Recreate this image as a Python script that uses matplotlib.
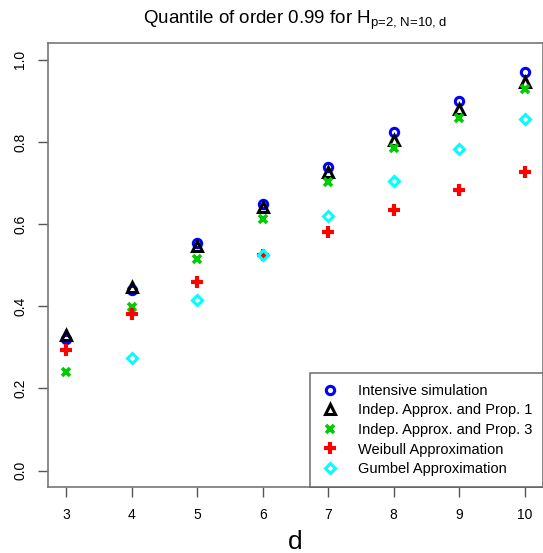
import numpy as np
import matplotlib
matplotlib.use("Agg")
import matplotlib.pyplot as plt

plt.rcParams["font.family"] = ["Liberation Sans", "DejaVu Sans"]
plt.rcParams["mathtext.fontset"] = "custom"
plt.rcParams["mathtext.rm"] = "Liberation Sans"

# data
d = [3, 4, 5, 6, 7, 8, 9, 10]
intensive = [0.321, 0.440, 0.553, 0.649, 0.740, 0.825, 0.900, 0.970]
prop1 = [0.329, 0.446, 0.547, 0.641, 0.726, 0.805, 0.879, 0.946]
prop3 = [0.241, 0.399, 0.514, 0.612, 0.702, 0.785, 0.858, 0.928]
weibull = [0.293, 0.382, 0.458, 0.524, 0.581, 0.634, 0.683, 0.728]
gumbel = [np.nan, 0.275, 0.415, 0.524, 0.620, 0.705, 0.783, 0.856]

labels = ["Intensive simulation", "Indep. Approx. and Prop. 1",
          "Indep. Approx. and Prop. 3", "Weibull Approximation",
          "Gumbel Approximation"]

fig = plt.figure(figsize=(5.43, 5.53), dpi=100)
ax = fig.add_axes([0.0884, 0.1193, 0.9116, 0.8023])

ax.plot(d, intensive, "o", ms=6, mew=2.2, mfc="none", mec="#0000ff", label=labels[0])
ax.plot(d, prop1, "^", ms=6.5, mew=2.2, mfc="none", mec="black", label=labels[1])
ax.plot(d, prop3, "x", ms=6, mew=2.6, color="#00cd00", label=labels[2])
ax.plot(d, weibull, "+", ms=8.5, mew=3, color="#ff0000", label=labels[3])
ax.plot(d, gumbel, "D", ms=5.5, mew=2.2, mfc="none", mec="#00ffff", label=labels[4])

# R style axes: 4% padding
ax.set_xlim(3 - 0.28, 10 + 0.28)
ax.set_ylim(-0.04, 1.04)
ax.set_xticks(d)
ax.set_yticks([0.0, 0.2, 0.4, 0.6, 0.8, 1.0])
ax.set_yticklabels(["0.0", "0.2", "0.4", "0.6", "0.8", "1.0"], rotation=90, va="center")
ax.tick_params(direction="out", length=7, width=1, color="#555555",
               labelsize=10, pad=8)
for s in ax.spines.values():
    s.set_color("#777777")
    s.set_linewidth(1.2)

ax.set_xlabel("d", fontsize=19, labelpad=6)
ax.set_title(r"Quantile of order 0.99 for H$_{\text{p=2, N=10, d}}$",
             fontsize=13.5, pad=14)

leg = ax.legend(loc="lower right", fontsize=10.5, frameon=True, fancybox=False,
                borderaxespad=0, handletextpad=1.3, labelspacing=0.38,
                borderpad=0.75, handlelength=1.2)
leg.get_frame().set_edgecolor("#555555")
leg.get_frame().set_linewidth(1.2)

fig.savefig("out.png", dpi=100)
